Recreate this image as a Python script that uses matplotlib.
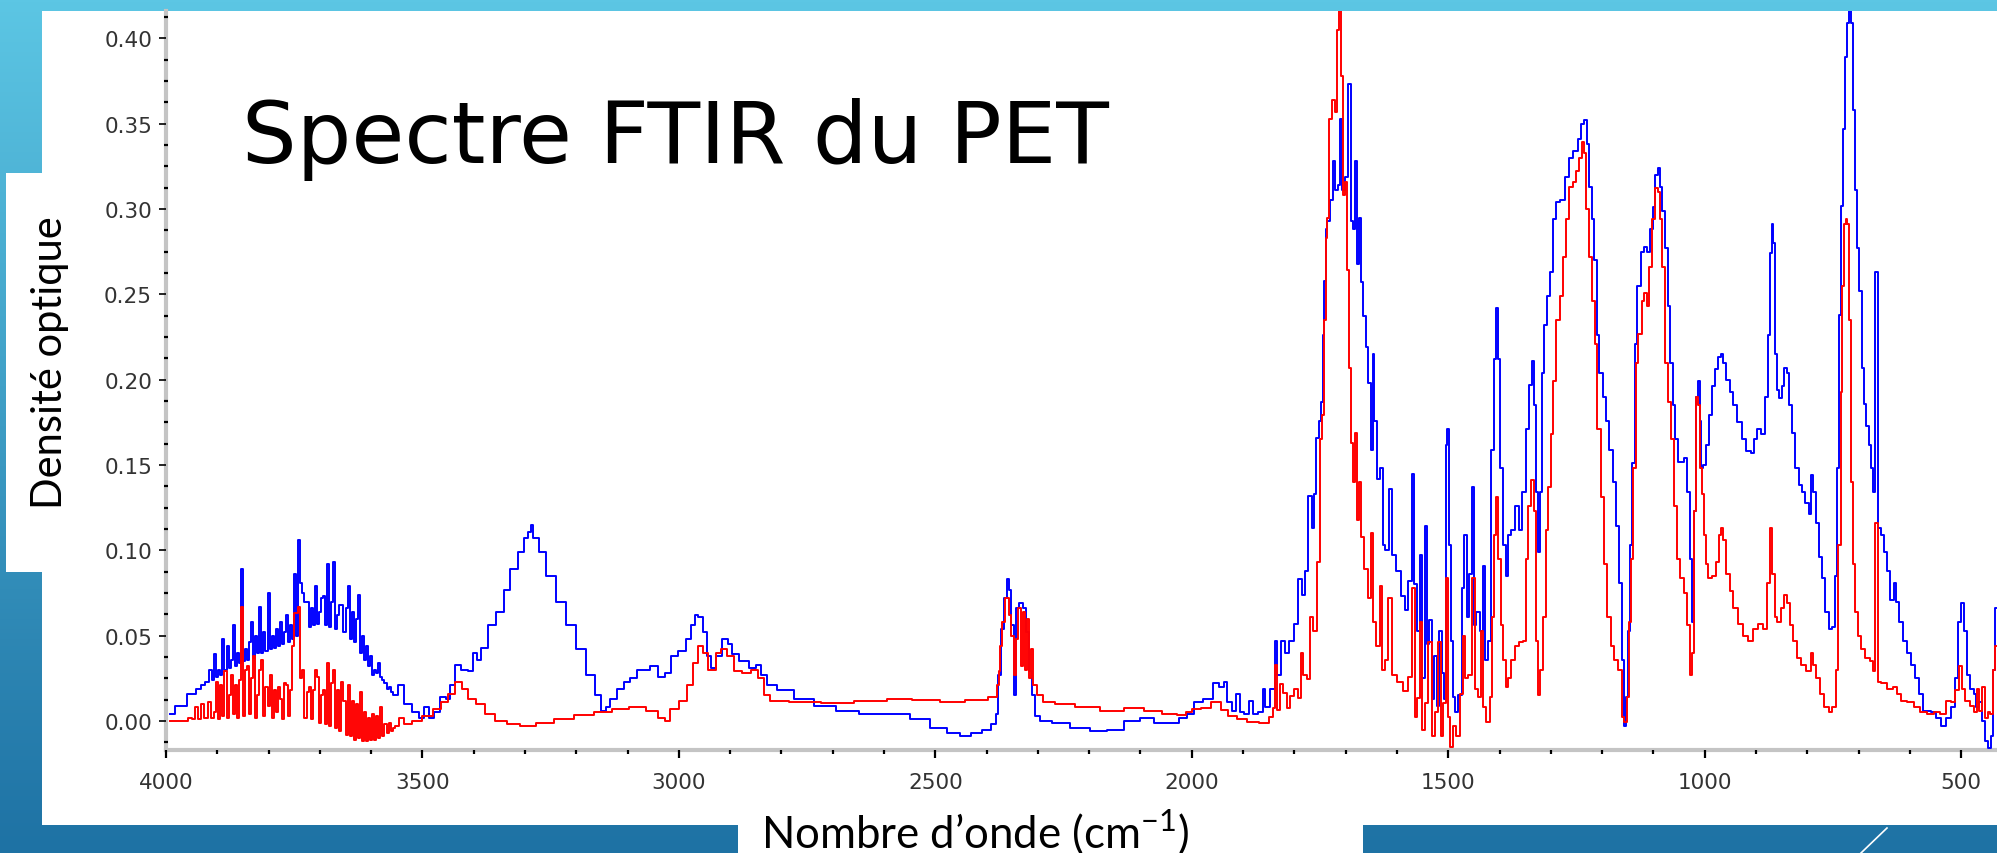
import numpy as np
import matplotlib.pyplot as plt
from matplotlib.patches import Rectangle
from matplotlib.lines import Line2D
from matplotlib.ticker import FormatStrFormatter

# Spectrum values (wavenumber in cm-1, optical density)
blue_wn = [3992, 3973, 3947, 3935, 3927, 3920,
           3912, 3908, 3904, 3900, 3896, 3892, 3888, 3884, 3880, 3876, 3872, 3868, 3864, 3860,
           3856, 3852, 3848, 3844, 3840, 3836, 3832, 3828, 3824, 3820, 3816, 3812, 3808, 3804,
           3800, 3796, 3792, 3788, 3784, 3780, 3776, 3772, 3768, 3764, 3760, 3756, 3752, 3748,
           3744, 3740, 3736, 3732, 3728, 3724, 3720, 3716, 3712, 3708, 3704, 3700, 3696, 3692,
           3688, 3684, 3680, 3676, 3672, 3668, 3664, 3660, 3656, 3652, 3648, 3644, 3640, 3636,
           3632, 3628, 3624, 3620, 3616, 3612, 3608, 3604, 3600, 3596, 3592, 3588, 3584, 3580,
           3576, 3572, 3568, 3564, 3560, 3555, 3542, 3529, 3513, 3500,
           3493, 3483, 3470, 3460, 3450, 3441, 3431, 3418, 3406, 3397, 3390, 3380, 3364, 3348,
           3335, 3322, 3306, 3299, 3289, 3287, 3280, 3267, 3250, 3231, 3211, 3192, 3172, 3156,
           3146, 3140, 3127, 3114, 3101, 3088, 3075, 3062, 3049, 3033, 3020, 3010, 2993, 2980,
           2971, 2966, 2958, 2948, 2941, 2935, 2922, 2909, 2899, 2893, 2873, 2854, 2844, 2834,
           2821, 2795, 2756, 2717, 2672, 2626, 2607, 2568, 2529, 2490, 2464, 2441, 2419, 2399,
           2383, 2380, 2374, 2370, 2363, 2358, 2354, 2350, 2344, 2341, 2334, 2326, 2321, 2315,
           2308, 2302, 2289, 2256, 2217, 2178, 2152, 2113, 2087, 2061, 2035, 2015, 2002, 1989,
           1968, 1951, 1942, 1934, 1929, 1916, 1910, 1903, 1893, 1883, 1877, 1864, 1860, 1854,
           1841, 1836, 1831, 1821, 1815, 1805, 1795, 1789, 1782, 1776, 1769, 1763, 1760, 1755,
           1750, 1745, 1743, 1740, 1737, 1734, 1727, 1724, 1718, 1711, 1710, 1705, 1698, 1692,
           1688, 1685, 1679, 1676, 1672, 1669, 1663, 1659, 1653, 1649, 1646, 1643, 1636, 1630,
           1626, 1620, 1612, 1607, 1597, 1588, 1581, 1574, 1568, 1565, 1558, 1553, 1548, 1544,
           1539, 1534, 1529, 1526, 1519, 1516, 1510, 1506, 1503, 1500, 1497, 1492, 1488, 1484,
           1477, 1471, 1466, 1462, 1458, 1451, 1448, 1442, 1435, 1431, 1426, 1419, 1413, 1409,
           1404, 1402, 1396, 1390, 1385, 1380, 1374, 1365, 1359, 1352, 1345, 1340, 1335, 1332,
           1327, 1322, 1319, 1316, 1309, 1305, 1299, 1293, 1286, 1277, 1268, 1261, 1251, 1244,
           1238, 1231, 1228, 1223, 1218, 1213, 1208, 1203, 1195, 1189, 1183, 1176, 1170, 1163,
           1159, 1156, 1152, 1147, 1143, 1139, 1134, 1128, 1122, 1115, 1109, 1104, 1099, 1094,
           1089, 1085, 1080, 1074, 1070, 1065, 1060, 1055, 1050, 1044, 1037, 1031, 1026, 1022,
           1019, 1015, 1011, 1008, 1005, 1000, 995, 990, 983, 977, 970, 966, 961, 955, 948, 942,
           933, 923, 914, 907, 901, 894, 886, 879, 875, 870, 868, 865, 862, 857, 852, 847, 842,
           838, 833, 826, 820, 813, 807, 800, 795, 790, 786, 781, 774, 768, 761, 755, 748, 743,
           740, 736, 732, 729, 724, 721, 717, 713, 709, 706, 701, 696, 691, 687, 683, 678, 674,
           670, 667, 663, 660, 654, 648, 641, 635, 628, 624, 617, 609, 602, 594, 586, 578, 572,
           563, 553, 544, 533, 524, 515, 508, 503, 498, 492, 485, 479, 472, 468, 463, 456, 450,
           444, 440, 435, 431]
blue_od = [0.004, 0.009, 0.016, 0.019, 0.021, 0.023,
           0.030, 0.024, 0.039, 0.026, 0.030, 0.027, 0.048, 0.030, 0.044, 0.031, 0.036, 0.056, 0.032, 0.040,
           0.034, 0.089, 0.035, 0.042, 0.036, 0.046, 0.058, 0.037, 0.050, 0.040, 0.067, 0.040, 0.052, 0.041,
           0.075, 0.042, 0.050, 0.043, 0.054, 0.044, 0.058, 0.045, 0.052, 0.062, 0.046, 0.056, 0.048, 0.086,
           0.050, 0.106, 0.081, 0.075, 0.070, 0.070, 0.055, 0.066, 0.056, 0.079, 0.057, 0.064, 0.072, 0.073,
           0.056, 0.092, 0.055, 0.070, 0.093, 0.054, 0.062, 0.068, 0.068, 0.052, 0.066, 0.079, 0.048, 0.064,
           0.046, 0.060, 0.074, 0.040, 0.050, 0.036, 0.044, 0.032, 0.038, 0.027, 0.030, 0.028, 0.034, 0.026,
           0.024, 0.022, 0.019, 0.020, 0.017, 0.015, 0.021, 0.010, 0.005, 0.002,
           0.008, 0.002, 0.005, 0.014, 0.013, 0.021, 0.033, 0.030, 0.029, 0.040, 0.036, 0.043, 0.056, 0.064,
           0.077, 0.089, 0.099, 0.107, 0.111, 0.115, 0.107, 0.099, 0.085, 0.070, 0.056, 0.042, 0.027, 0.015,
           0.006, 0.008, 0.013, 0.019, 0.023, 0.025, 0.030, 0.030, 0.032, 0.026, 0.028, 0.038, 0.041, 0.048,
           0.056, 0.062, 0.061, 0.052, 0.038, 0.031, 0.038, 0.048, 0.045, 0.039, 0.035, 0.031, 0.033, 0.027,
           0.021, 0.018, 0.013, 0.009, 0.006, 0.004, 0.004, 0.004, 0.001, -0.004, -0.007, -0.009, -0.007, -0.005,
           -0.002, 0.004, 0.027, 0.054, 0.072, 0.083, 0.077, 0.056, 0.015, 0.066, 0.069, 0.066, 0.052, 0.029,
           0.015, 0.003, 0.000, -0.001, -0.004, -0.006, -0.005, 0.000, 0.0015, -0.001, -0.001, 0.002, 0.004, 0.011,
           0.013, 0.022, 0.020, 0.023, 0.011, 0.006, 0.016, 0.005, 0.004, 0.012, 0.004, 0.005, 0.019, 0.008,
           0.019, 0.047, 0.027, 0.047, 0.040, 0.047, 0.057, 0.083, 0.074, 0.088, 0.132, 0.113, 0.133, 0.166,
           0.176, 0.187, 0.226, 0.258, 0.288, 0.293, 0.305, 0.328, 0.311, 0.314, 0.353, 0.311, 0.319, 0.373,
           0.293, 0.288, 0.328, 0.268, 0.295, 0.257, 0.237, 0.219, 0.198, 0.159, 0.215, 0.176, 0.142, 0.148,
           0.103, 0.100, 0.136, 0.097, 0.088, 0.073, 0.065, 0.082, 0.145, 0.080, 0.053, 0.097, 0.025, 0.114,
           0.045, 0.059, 0.013, 0.038, 0.009, 0.053, 0.028, 0.013, 0.162, 0.171, 0.103, 0.047, 0.014, 0.005,
           0.015, 0.078, 0.109, 0.061, 0.086, 0.137, 0.056, 0.064, 0.053, 0.091, 0.036, 0.047, 0.159, 0.212,
           0.242, 0.212, 0.148, 0.103, 0.085, 0.109, 0.112, 0.126, 0.112, 0.134, 0.171, 0.197, 0.211, 0.185,
           0.134, 0.099, 0.134, 0.204, 0.232, 0.249, 0.263, 0.294, 0.304, 0.305, 0.319, 0.330, 0.334, 0.341,
           0.350, 0.352, 0.338, 0.313, 0.294, 0.270, 0.226, 0.204, 0.190, 0.176, 0.159, 0.140, 0.114, 0.081,
           0.036, -0.003, 0.014, 0.053, 0.103, 0.151, 0.221, 0.255, 0.275, 0.278, 0.275, 0.288, 0.301, 0.320,
           0.324, 0.313, 0.299, 0.277, 0.243, 0.210, 0.185, 0.165, 0.152, 0.152, 0.154, 0.134, 0.095, 0.058,
           0.123, 0.190, 0.199, 0.176, 0.148, 0.150, 0.162, 0.179, 0.196, 0.206, 0.213, 0.215, 0.210, 0.200, 0.193, 0.185,
           0.175, 0.165, 0.158, 0.157, 0.165, 0.171, 0.168, 0.190, 0.226, 0.274, 0.291, 0.280, 0.215, 0.194, 0.189, 0.196, 0.207,
           0.204, 0.185, 0.169, 0.148, 0.138, 0.134, 0.128, 0.121, 0.144, 0.134, 0.116, 0.096, 0.084, 0.064, 0.054, 0.055, 0.085,
           0.148, 0.238, 0.302, 0.347, 0.389, 0.409, 0.420, 0.409, 0.358, 0.311, 0.277, 0.252, 0.207, 0.186, 0.173, 0.162, 0.148,
           0.134, 0.263, 0.263, 0.113, 0.109, 0.099, 0.088, 0.071, 0.081, 0.070, 0.058, 0.047, 0.040, 0.033, 0.025, 0.016, 0.006,
           0.006, 0.005, 0.002, -0.003, 0.002, 0.008, 0.025, 0.058, 0.069, 0.053, 0.027, 0.019, 0.016, 0.008, 0.011, 0.000, -0.012,
           -0.016, -0.009, 0.030, 0.066]

red_wn = [3992, 3960, 3953, 3945, 3940, 3934, 3928, 3922, 3914, 3910,
          3904, 3900, 3896, 3892, 3888, 3884, 3880, 3876, 3872, 3868, 3864, 3860, 3856, 3852,
          3848, 3844, 3840, 3836, 3832, 3828, 3824, 3820, 3816, 3812, 3808, 3804, 3800, 3796,
          3792, 3788, 3784, 3780, 3776, 3772, 3768, 3764, 3760, 3756, 3752, 3748, 3744, 3740,
          3736, 3732, 3728, 3724, 3720, 3716, 3712, 3708, 3704, 3700, 3696, 3692, 3688, 3684,
          3680, 3676, 3672, 3668, 3664, 3660, 3656, 3652, 3648, 3644, 3640, 3636, 3632, 3628,
          3624, 3620, 3616, 3612, 3608, 3604, 3600, 3596, 3592, 3588, 3584, 3580, 3576, 3572,
          3568, 3564, 3560, 3556, 3550, 3542, 3529, 3510, 3490, 3470,
          3457, 3444, 3429, 3418, 3406, 3387, 3368, 3348, 3322, 3296, 3263, 3224, 3185, 3146,
          3114, 3081, 3049, 3033, 3023, 3010, 2990, 2977, 2967, 2958, 2948, 2938, 2932, 2922,
          2915, 2899, 2886, 2867, 2850, 2841, 2828, 2815, 2756, 2691, 2626, 2607, 2581, 2510,
          2471, 2412, 2383, 2378, 2374, 2372, 2367, 2360, 2354, 2350, 2344, 2341, 2336, 2331,
          2328, 2323, 2320, 2315, 2311, 2307, 2298, 2282, 2250, 2204, 2152, 2113, 2074, 2041,
          2015, 2009, 1989, 1974, 1951, 1935, 1922, 1903, 1883, 1854, 1844, 1838, 1836, 1831,
          1825, 1818, 1812, 1805, 1795, 1789, 1786, 1779, 1773, 1766, 1760, 1753, 1748, 1743,
          1740, 1737, 1734, 1729, 1724, 1718, 1714, 1712, 1708, 1703, 1698, 1695, 1692, 1688,
          1684, 1681, 1676, 1672, 1668, 1659, 1653, 1648, 1644, 1636, 1631, 1627, 1620, 1614,
          1607, 1594, 1581, 1575, 1568, 1562, 1558, 1553, 1548, 1542, 1535, 1529, 1522, 1516,
          1513, 1506, 1503, 1499, 1494, 1487, 1481, 1474, 1469, 1464, 1458, 1451, 1445, 1438,
          1434, 1429, 1422, 1416, 1413, 1408, 1404, 1400, 1396, 1391, 1385, 1380, 1374, 1367,
          1358, 1351, 1346, 1342, 1335, 1330, 1327, 1322, 1319, 1312, 1307, 1303, 1298, 1293,
          1286, 1280, 1274, 1267, 1261, 1254, 1248, 1241, 1238, 1234, 1228, 1223, 1217, 1212,
          1206, 1200, 1193, 1187, 1180, 1172, 1164, 1159, 1154, 1150, 1146, 1141, 1137, 1132,
          1126, 1120, 1115, 1111, 1105, 1099, 1094, 1089, 1085, 1080, 1073, 1068, 1064, 1057,
          1051, 1044, 1038, 1031, 1027, 1022, 1018, 1014, 1011, 1008, 1003, 1000, 996, 990, 982,
          975, 970, 966, 961, 955, 948, 940, 930, 920, 910, 901, 891, 881, 876, 871, 866, 861,
          855, 849, 842, 837, 831, 825, 816, 807, 797, 790, 786, 779, 771, 762, 755, 747, 742,
          737, 733, 730, 727, 723, 720, 717, 713, 709, 704, 698, 691, 683, 674, 669, 667, 663,
          660, 651, 638, 628, 622, 612, 599, 586, 573, 560, 547, 535, 524, 515, 508, 502, 495,
          488, 479, 470, 468, 463, 456, 451, 446, 440, 435, 431]
red_od = [0.000, 0.000, 0.002, 0.001, 0.008, 0.001, 0.010, 0.002, 0.011, 0.002,
          0.005, 0.023, 0.001, 0.021, 0.003, 0.029, 0.002, 0.015, 0.027, 0.004, 0.021, 0.002, 0.024, 0.067,
          0.003, 0.030, 0.032, 0.004, 0.025, 0.038, 0.002, 0.015, 0.030, 0.036, 0.003, 0.020, 0.009, 0.027,
          0.002, 0.018, 0.005, 0.020, 0.013, 0.001, 0.022, 0.021, 0.003, 0.018, 0.044, 0.063, 0.063, 0.067,
          0.025, 0.030, 0.002, 0.017, 0.020, 0.001, 0.018, 0.030, 0.026, -0.001, 0.015, 0.018, -0.002, 0.034,
          -0.003, 0.022, 0.030, -0.004, 0.018, -0.006, 0.023, 0.012, -0.008, 0.021, -0.009, 0.012, -0.011, 0.010,
          -0.010, 0.017, -0.012, 0.005, -0.012, 0.002, -0.011, 0.004, -0.011, 0.003, -0.010, 0.008, -0.009, -0.002,
          -0.007, -0.001, -0.006, -0.004, -0.003, 0.002, -0.002, 0.000, 0.003, 0.007,
          0.011, 0.016, 0.023, 0.019, 0.013, 0.010, 0.004, 0.000, -0.002, -0.003, -0.001, 0.001, 0.0035, 0.005,
          0.007, 0.008, 0.006, 0.002, 0.000, 0.007, 0.012, 0.021, 0.034, 0.044, 0.040, 0.030, 0.030, 0.040,
          0.042, 0.038, 0.029, 0.028, 0.030, 0.025, 0.015, 0.012, 0.011, 0.0105, 0.012, 0.012, 0.013, 0.0125,
          0.011, 0.0125, 0.014, 0.021, 0.029, 0.044, 0.058, 0.072, 0.062, 0.050, 0.027, 0.048, 0.066, 0.032,
          0.064, 0.030, 0.060, 0.025, 0.042, 0.021, 0.015, 0.011, 0.010, 0.008, 0.006, 0.0075, 0.006, 0.004,
          0.0035, 0.0055, 0.007, 0.0078, 0.0112, 0.0064, 0.003, 0.001, -0.0004, -0.001, 0.0023, 0.0078, 0.033, 0.0064,
          0.0219, 0.0163, 0.0078, 0.0149, 0.019, 0.0135, 0.040, 0.027, 0.0247, 0.061, 0.053, 0.093, 0.165, 0.179,
          0.235, 0.283, 0.295, 0.353, 0.364, 0.357, 0.405, 0.420, 0.378, 0.308, 0.316, 0.264, 0.207, 0.163,
          0.140, 0.169, 0.118, 0.140, 0.108, 0.089, 0.072, 0.110, 0.058, 0.044, 0.079, 0.030, 0.036, 0.072,
          0.027, 0.023, 0.0175, 0.026, 0.078, 0.0022, 0.0135, 0.058, -0.005, 0.0107, 0.046, -0.009, 0.005, 0.046,
          -0.009, 0.0107, 0.084, 0.0024, -0.015, -0.003, -0.009, 0.016, 0.050, 0.025, 0.027, 0.084, 0.019, 0.014,
          0.053, 0.008, -0.0004, 0.014, 0.061, 0.109, 0.131, 0.095, 0.056, 0.036, 0.020, 0.025, 0.036, 0.044,
          0.046, 0.047, 0.095, 0.126, 0.141, 0.123, 0.047, 0.015, 0.030, 0.061, 0.112, 0.137, 0.168, 0.199,
          0.235, 0.249, 0.272, 0.294, 0.313, 0.316, 0.322, 0.330, 0.339, 0.333, 0.300, 0.272, 0.246, 0.221,
          0.171, 0.131, 0.092, 0.061, 0.044, 0.036, 0.030, 0.0024, -0.0004, 0.014, 0.058, 0.095, 0.148, 0.210,
          0.227, 0.246, 0.251, 0.243, 0.266, 0.294, 0.312, 0.310, 0.294, 0.266, 0.210, 0.187, 0.165, 0.126,
          0.095, 0.084, 0.075, 0.056, 0.027, 0.040, 0.123, 0.190, 0.185, 0.148, 0.133, 0.109, 0.092, 0.084, 0.085,
          0.093, 0.109, 0.113, 0.106, 0.086, 0.076, 0.066, 0.057, 0.050, 0.047, 0.054, 0.057, 0.054, 0.081, 0.113, 0.086, 0.061,
          0.058, 0.066, 0.074, 0.069, 0.056, 0.047, 0.037, 0.033, 0.029, 0.040, 0.033, 0.025, 0.016, 0.008, 0.005, 0.008, 0.030,
          0.103, 0.193, 0.255, 0.291, 0.294, 0.291, 0.235, 0.140, 0.092, 0.064, 0.050, 0.042, 0.037, 0.035, 0.029, 0.116, 0.116,
          0.023, 0.022, 0.019, 0.020, 0.016, 0.012, 0.011, 0.008, 0.005, 0.004, 0.005, 0.004, 0.012, 0.011, 0.018, 0.032, 0.019,
          0.012, 0.009, 0.005, 0.019, 0.006, 0.020, 0.002, 0.005, 0.004, 0.030, 0.044]

x_ticks = [4000, 3500, 3000, 2500, 2000, 1500, 1000, 500]
y_ticks = [0.00, 0.05, 0.10, 0.15, 0.20, 0.25, 0.30, 0.35, 0.40]

W, H = 1997, 854
fig = plt.figure(figsize=(W / 100, H / 100), dpi=100)

# Slide background: blue gradient
bg = fig.add_axes([0, 0, 1, 1])
bg.set_axis_off()
top = np.array([0x5C, 0xC6, 0xE4]) / 255
bot = np.array([0x1E, 0x72, 0xA4]) / 255
t = np.linspace(0, 1, 256)[:, None, None]
grad = top + (bot - top) * t
bg.imshow(grad, aspect='auto', extent=[0, 1, 0, 1], origin='upper')
bg.set_xlim(0, 1)
bg.set_ylim(0, 1)


def white_box(x0, y0, x1, y1):
    # pixel box, y measured from top
    bg.add_patch(Rectangle((x0 / W, 1 - y1 / H), (x1 - x0) / W, (y1 - y0) / H,
                           facecolor='white', edgecolor='none'))


white_box(42, 12, W, 826)     # chart image
white_box(6, 174, 90, 573)    # y label box
white_box(738, 820, 1363, H)  # x label box
bg.add_line(Line2D([1861 / W, 1887 / W], [0, 1 - 829 / H], color='white', lw=1.2))

# Spectrum axes
ax = fig.add_axes([166 / W, 1 - 751 / H, (W - 166) / W, (751 - 12) / H])
ax.patch.set_alpha(0)
ax.plot(blue_wn, blue_od, color='#0000FF', lw=1.4, drawstyle='steps-mid')
ax.plot(red_wn, red_od, color='#FF0000', lw=1.4, drawstyle='steps-mid')
ax.set_xlim(4000, 430)
ax.set_ylim(-0.017, 0.416)

for side in ['top', 'right']:
    ax.spines[side].set_visible(False)
for side in ['left', 'bottom']:
    ax.spines[side].set_color('#c4c4c4')
    ax.spines[side].set_linewidth(3)
    ax.spines[side].set_zorder(1)

ax.set_xticks(x_ticks)
ax.set_xticks(np.arange(4000, 430, -100), minor=True)
ax.set_yticks(y_ticks)
ax.set_yticks(np.arange(-0.0125, 0.416, 0.0125), minor=True)
ax.yaxis.set_major_formatter(FormatStrFormatter('%.2f'))

ax.tick_params(axis='y', which='major', direction='out', length=5, width=1.2,
               color='black', pad=5, labelsize=15.5, labelcolor='#333333')
ax.tick_params(axis='y', which='minor', direction='inout', length=3, width=1.6, color='black')
ax.tick_params(axis='x', which='major', direction='out', length=6, width=1.6,
               color='black', pad=10, labelsize=15.5, labelcolor='#333333')
ax.tick_params(axis='x', which='minor', direction='out', length=3, width=1.6, color='black')

# Slide texts
fig.text(242 / W, 1 - 163 / H, 'Spectre FTIR du PET', fontsize=62, family='DejaVu Sans',
         ha='left', va='baseline')
fig.text(50 / W, 1 - 363 / H, 'Densité optique', rotation=90, fontsize=30, family='Lato',
         ha='center', va='center')
plt.rcParams['mathtext.fontset'] = 'custom'
plt.rcParams['mathtext.rm'] = 'Lato'
fig.text(975 / W, 1 - 848 / H, 'Nombre d’onde (cm$^{\\mathrm{-1}}$)', fontsize=31.5, family='Lato',
         ha='center', va='baseline')

plt.savefig('out.png', dpi=100)
